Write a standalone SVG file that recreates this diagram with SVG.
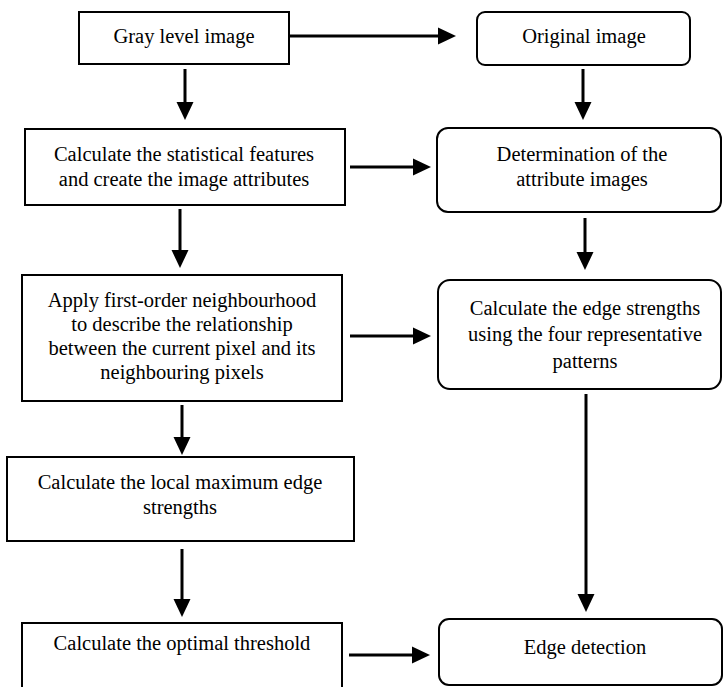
<svg xmlns="http://www.w3.org/2000/svg" width="723" height="687" viewBox="0 0 723 687">
<style>
.box{fill:#fff;stroke:#000;stroke-width:2}
.t{font-family:'Liberation Serif','Times New Roman',Times,'DejaVu Serif',serif;font-size:20.5px;fill:#000;text-anchor:middle}
.c{stroke:#000;stroke-width:3;fill:none;marker-end:url(#ah)}
</style>
<defs>
<marker id="ah" markerUnits="userSpaceOnUse" markerWidth="18" markerHeight="18" refX="6" refY="9" orient="auto">
<path d="M0,0.5 L18,9 L0,17.5 z" fill="#000"/>
</marker>
</defs>
<rect width="723" height="687" fill="#fff"/>
<g font-family="'Liberation Serif', 'Times New Roman', serif">
<g id="n1"><rect class="box" x="79" y="12" width="210" height="52"/><text class="t" x="184" y="43">Gray level image</text></g>
<g id="n2"><rect class="box" x="477" y="12" width="213" height="53" rx="8"/><text class="t" x="584" y="43">Original image</text></g>
<g id="n3"><rect class="box" x="25" y="129" width="320" height="76"/><text class="t" x="184" y="161">Calculate the statistical features</text><text class="t" x="184" y="186">and create the image attributes</text></g>
<g id="n4"><rect class="box" x="437" y="128" width="284" height="84" rx="11"/><text class="t" x="582" y="161">Determination of the</text><text class="t" x="582" y="186">attribute images</text></g>
<g id="n5"><rect class="box" x="22" y="275" width="320" height="126"/><text class="t" x="182" y="307">Apply first-order neighbourhood</text><text class="t" x="182" y="331">to describe the relationship</text><text class="t" x="182" y="355">between the current pixel and its</text><text class="t" x="182" y="379">neighbouring pixels</text></g>
<g id="n6"><rect class="box" x="438" y="280" width="283" height="109" rx="12"/><text class="t" x="585" y="315">Calculate the edge strengths</text><text class="t" x="585" y="341">using the four representative</text><text class="t" x="585" y="368">patterns</text></g>
<g id="n7"><rect class="box" x="7" y="457" width="347" height="84"/><text class="t" x="180" y="489">Calculate the local maximum edge</text><text class="t" x="180" y="514">strengths</text></g>
<g id="n8"><rect class="box" x="22" y="623" width="320" height="70"/><text class="t" x="182" y="650">Calculate the optimal threshold</text></g>
<g id="n9"><rect class="box" x="439" y="619" width="283" height="66" rx="10"/><text class="t" x="585" y="654">Edge detection</text></g>
</g>
<g id="connectors">
<line class="c" x1="290" y1="36" x2="444" y2="36"/>
<line class="c" x1="185" y1="69" x2="185" y2="108"/>
<line class="c" x1="583" y1="69" x2="583" y2="108"/>
<line class="c" x1="350" y1="167" x2="419" y2="167"/>
<line class="c" x1="180" y1="209" x2="180" y2="256"/>
<line class="c" x1="585" y1="218" x2="585" y2="258"/>
<line class="c" x1="350" y1="336" x2="419" y2="336"/>
<line class="c" x1="182" y1="405" x2="182" y2="443"/>
<line class="c" x1="586" y1="394" x2="586" y2="600"/>
<line class="c" x1="182" y1="549" x2="182" y2="605"/>
<line class="c" x1="349" y1="655" x2="418" y2="655"/>
</g>
</svg>
